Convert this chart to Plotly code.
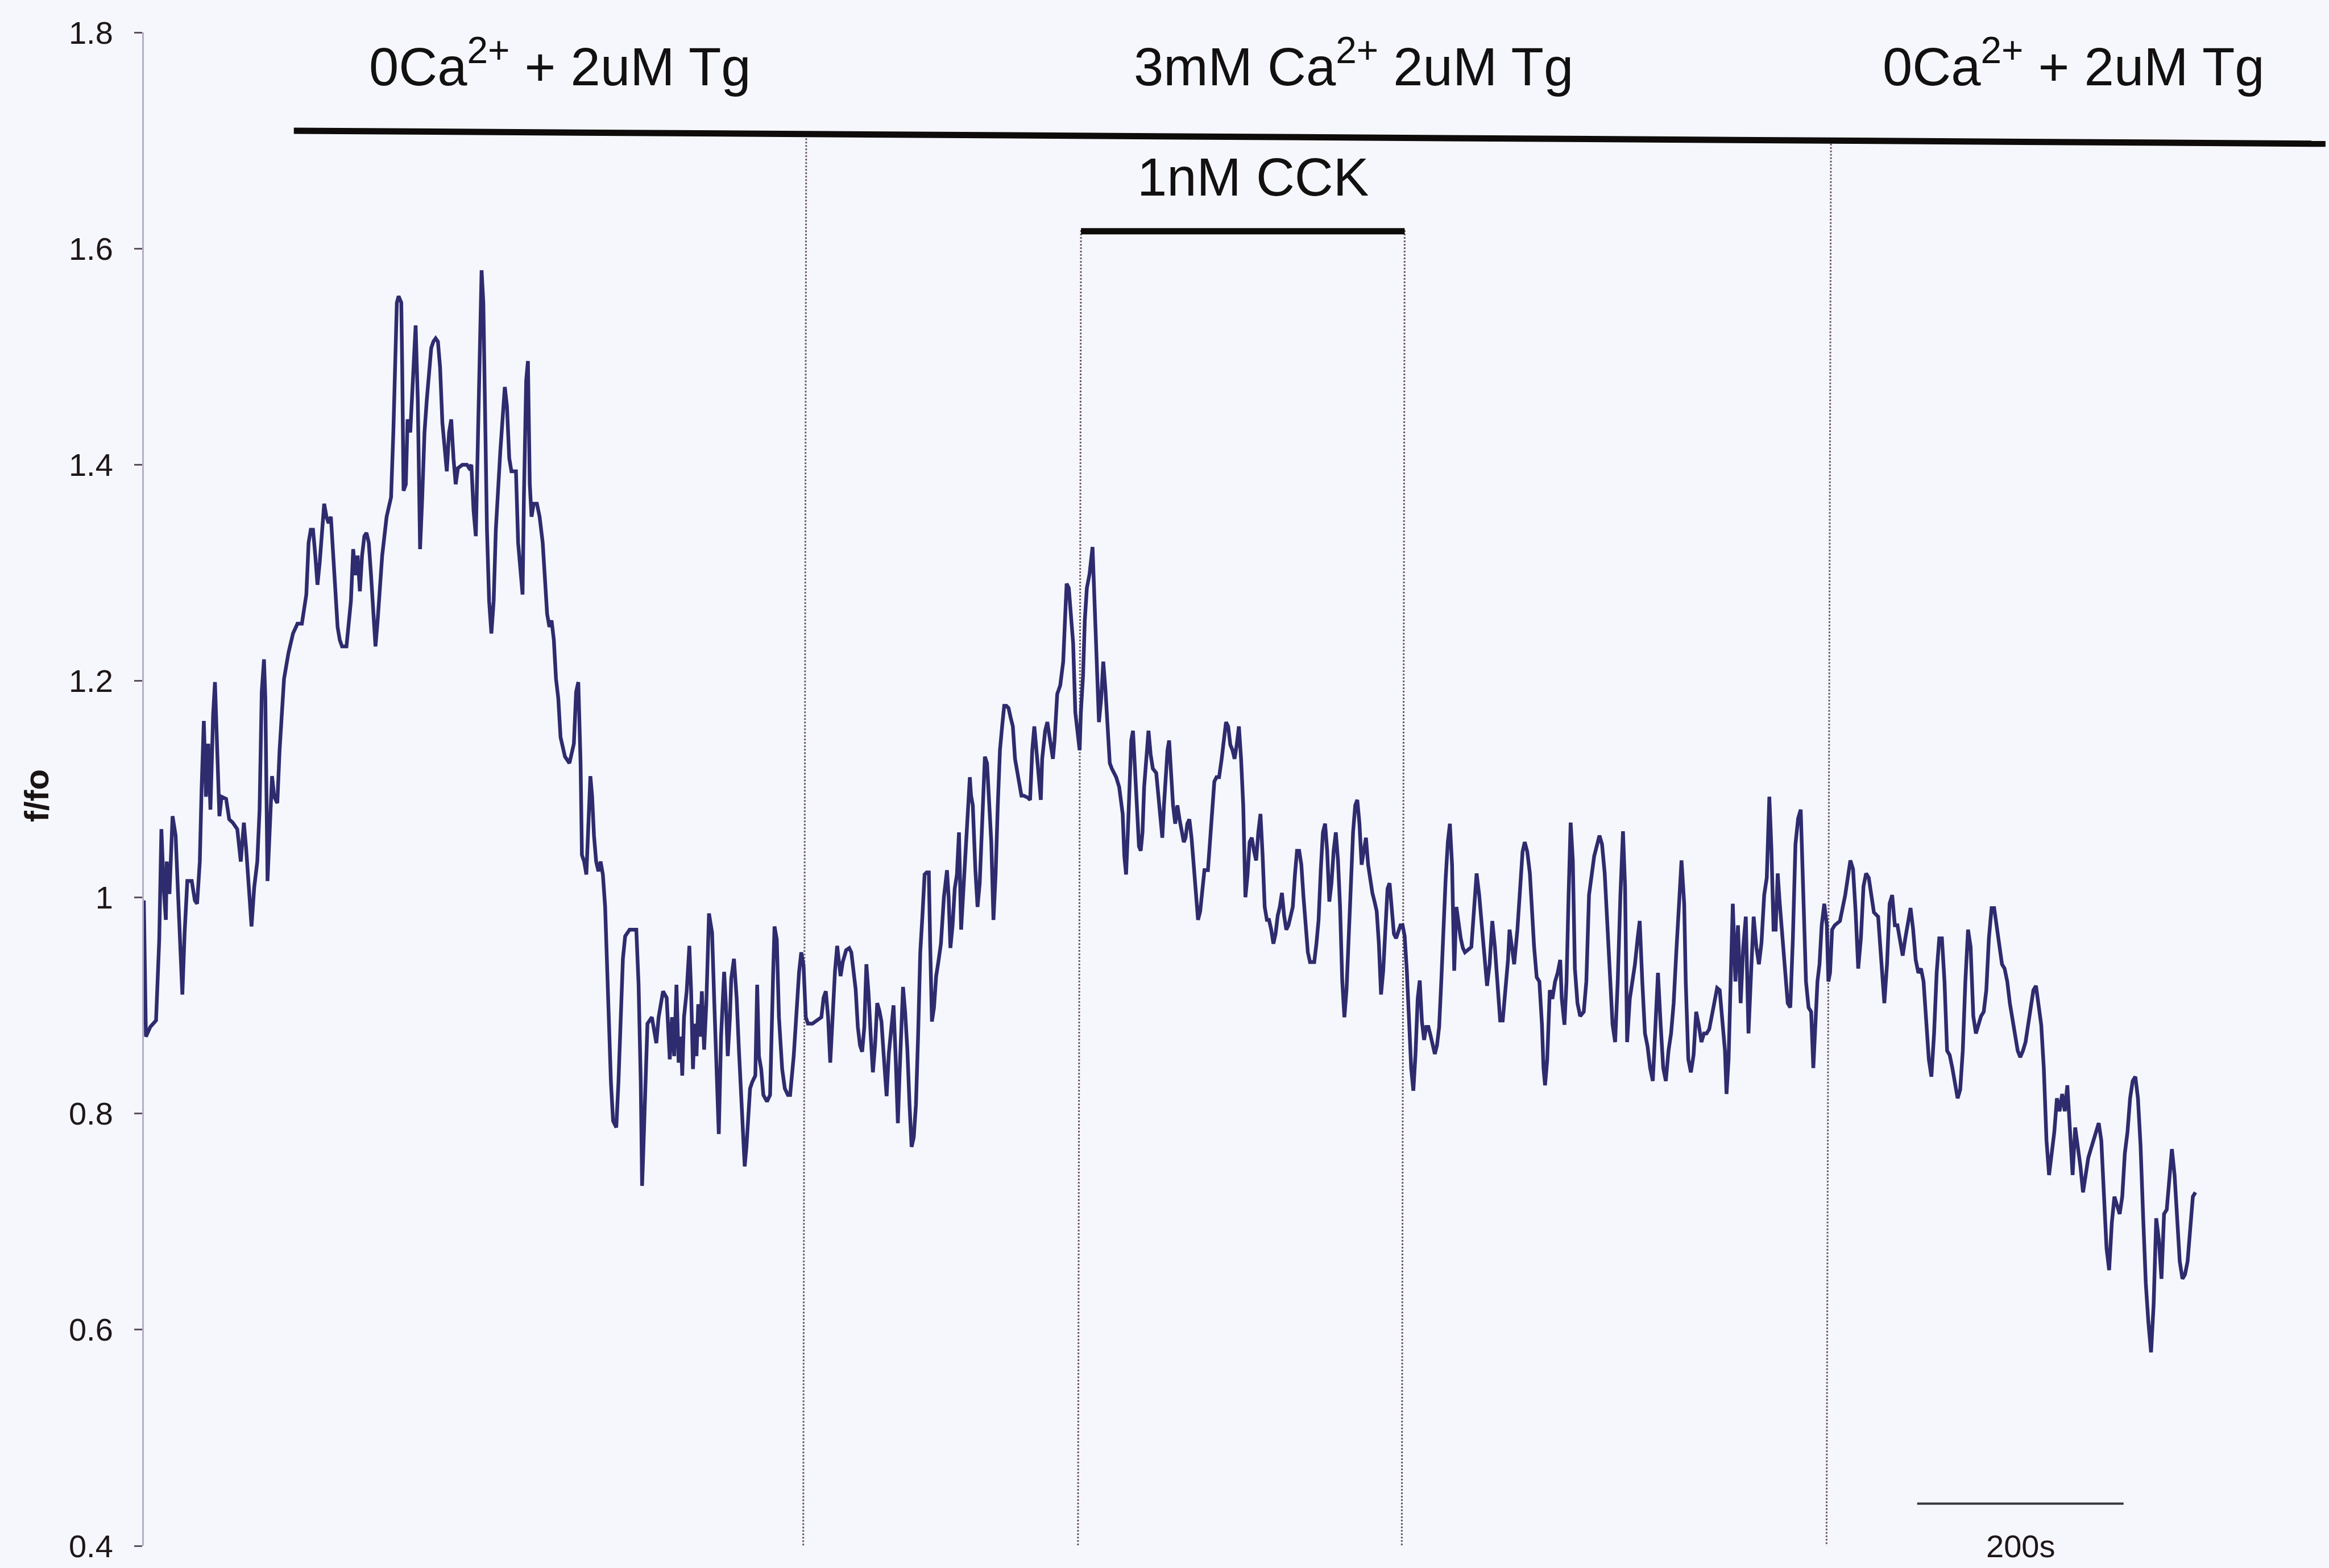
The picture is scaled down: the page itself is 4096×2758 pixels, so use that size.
import plotly.graph_objects as go

# Fluorescence trace (f/fo) against time in seconds
time_s = [
    0.0, 1.0, 2.0, 6.2, 11.8, 14.9, 17.0, 19.2, 21.3, 22.2, 24.8, 27.8, 30.8, 33.4, 35.6, 37.3, 39.5, 42.1, 46.4, 49.4,
    51.6, 54.2, 55.9, 58.1, 60.2, 62.4, 64.5, 67.1, 68.9, 71.0, 73.2, 75.3, 79.7, 82.7, 86.1, 90.5, 93.9, 96.9, 99.1, 102.6,
    104.3, 106.9, 109.9, 112.1, 114.2, 116.4, 117.7, 119.8, 122.0, 124.2, 126.3, 129.3, 131.5, 133.7, 135.8, 140.1, 144.5, 148.8, 153.1, 157.4,
    159.6, 161.7, 163.9, 166.1, 168.2, 170.4, 172.5, 174.7, 176.9, 179.0, 181.2, 183.3, 185.5, 187.7, 189.8, 192.0, 196.3, 200.6, 202.8, 205.0,
    207.1, 209.3, 211.4, 213.6, 215.7, 217.9, 220.1, 222.2, 224.4, 226.5, 228.7, 230.9, 235.2, 239.5, 241.7, 243.8, 245.1, 246.8, 249.4, 250.3,
    251.6, 253.8, 255.5, 258.1, 261.1, 263.3, 265.4, 267.6, 269.7, 271.9, 274.1, 276.2, 278.4, 280.5, 282.7, 284.9, 287.0, 289.2, 291.3, 293.5,
    295.7, 297.8, 300.0, 302.1, 304.3, 308.6, 313.0, 315.1, 317.3, 319.4, 321.6, 323.7, 325.9, 327.2, 328.9, 330.6, 332.4, 334.5, 336.7, 338.9,
    341.0, 345.3, 349.7, 351.8, 354.0, 356.1, 358.3, 360.5, 362.6, 364.8, 366.9, 368.2, 370.4, 372.1, 373.9, 375.6, 377.7, 380.8, 383.4, 386.4,
    388.5, 390.7, 392.9, 395.0, 397.2, 399.3, 401.5, 403.7, 408.0, 412.3, 416.6, 418.8, 420.9, 423.1, 424.4, 426.6, 428.7, 430.9, 432.6, 434.3,
    436.1, 438.2, 440.4, 442.5, 444.7, 446.9, 449.0, 450.7, 452.5, 454.6, 457.7, 459.8, 462.0, 464.1, 466.3, 470.6, 477.1, 479.3, 481.4, 482.7,
    483.6, 485.7, 487.9, 492.2, 494.4, 496.5, 498.7, 503.0, 506.5, 508.2, 509.5, 511.7, 513.8, 516.0, 518.1, 520.3, 521.6, 523.3, 525.9, 528.5,
    530.2, 532.0, 533.7, 535.4, 537.1, 538.9, 540.6, 542.8, 544.9, 547.5, 550.5, 552.7, 554.9, 557.0, 559.2, 562.2, 563.9, 565.7, 567.8, 569.1,
    571.7, 574.3, 576.5, 579.5, 582.1, 583.8, 587.3, 589.4, 592.4, 594.2, 595.9, 598.1, 600.2, 603.7, 606.7, 609.7, 611.0, 613.2, 615.3, 618.4,
    621.0, 624.0, 626.1, 629.6, 632.6, 634.8, 636.9, 639.1, 641.3, 643.4, 647.7, 652.1, 656.4, 658.5, 660.7, 662.9, 665.0,
    669.6, 671.7, 675.0, 677.1, 680.4, 683.4, 685.4, 689.6, 691.7, 693.8, 695.9, 698.0, 700.0, 702.1, 704.2, 706.3, 708.4, 710.5, 712.6, 714.6,
    716.7, 719.6, 721.7, 723.8, 726.3, 728.4, 730.5, 732.2, 733.8, 735.5, 737.6, 739.7, 741.8, 743.8, 745.9, 748.0, 750.1, 752.2, 754.3, 756.4,
    758.4, 760.5, 761.8, 763.5, 765.5, 767.6, 769.7, 772.2, 775.1, 778.1, 779.7, 781.4, 783.5, 785.6, 787.7, 789.7, 791.8, 793.9, 796.0, 798.1,
    800.2, 801.4, 803.1, 805.6, 807.7, 809.8, 811.4, 813.1, 814.8, 816.9, 818.9, 821.0, 823.1, 825.2, 827.3, 829.4, 831.5, 833.5, 835.6, 837.7,
    839.8, 841.9, 844.0, 846.1, 848.1, 850.2, 852.3, 856.5, 858.6, 860.7, 862.7, 864.0, 865.7, 867.3, 869.0, 870.3, 871.9, 873.2, 875.3, 877.3,
    879.4, 880.7, 882.3, 883.6, 884.9, 887.8, 890.7, 892.4, 894.0, 896.1, 898.2, 900.3, 902.4, 904.5, 906.6, 907.8, 909.9, 911.6, 913.6, 916.2,
    919.1, 921.2, 923.2, 925.3, 927.4, 929.5, 931.6, 933.7, 935.8, 937.8, 939.9, 942.0, 944.9, 946.6, 948.3, 949.9, 951.6, 953.3, 955.0, 956.6,
    958.3, 960.0, 961.6, 964.1, 965.8, 967.5, 969.1, 971.2, 973.3, 975.4, 977.5, 980.8, 982.9, 985.0, 986.7, 988.3, 990.0, 991.7, 993.3, 995.0,
    997.1, 999.2, 1001.3, 1003.4, 1005.4, 1007.5, 1009.2, 1010.9, 1012.9, 1015.0, 1017.1, 1019.2, 1021.3, 1023.4, 1025.5, 1027.5, 1030.9, 1033.0, 1035.0, 1037.1,
    1039.2, 1041.7, 1044.2, 1046.3, 1048.4, 1050.5, 1052.6, 1054.7, 1056.7, 1058.8, 1060.9, 1063.0, 1065.1, 1067.2, 1069.3, 1071.3, 1073.4, 1075.5, 1077.6, 1079.7,
    1081.8, 1083.9, 1085.9, 1088.0, 1090.1, 1092.2, 1094.3, 1096.4, 1098.5, 1100.5, 1102.6, 1104.7, 1106.8, 1108.9, 1111.0, 1113.1, 1115.2, 1117.2, 1119.3, 1121.4,
    1123.5, 1125.6, 1127.7, 1129.8, 1133.9, 1136.0, 1138.1, 1140.2, 1142.3, 1144.4, 1146.4, 1148.5, 1150.6, 1152.7, 1154.8, 1156.9, 1158.9, 1161.0, 1163.1, 1165.2,
    1167.3, 1169.4, 1171.5, 1173.6, 1175.6, 1177.7, 1179.8, 1181.9, 1184.0, 1186.1, 1188.2, 1190.2, 1192.3, 1194.4, 1196.5, 1198.6, 1200.7, 1202.8, 1204.9, 1206.9,
    1209.0, 1211.1, 1213.2, 1215.3, 1217.4, 1219.5, 1221.5, 1223.6, 1225.7, 1227.8, 1229.9, 1232.0, 1234.1, 1236.1, 1238.2, 1240.3, 1242.4, 1244.5, 1246.6, 1248.7,
    1250.7, 1252.8, 1254.9, 1257.0, 1259.1, 1261.2, 1263.3, 1265.3, 1267.4, 1269.5, 1271.6, 1273.7, 1275.8, 1277.9, 1279.9,
    1286.1, 1288.6, 1291.2, 1293.7, 1296.2, 1298.8, 1301.3, 1303.8, 1306.4, 1308.9, 1311.4, 1314.0, 1316.5, 1319.0, 1321.6, 1323.1, 1325.1, 1327.6, 1330.7, 1333.2,
    1335.7, 1337.8, 1340.3, 1342.8, 1344.9, 1346.9, 1349.4, 1352.0, 1354.5, 1356.0, 1357.5, 1359.6, 1362.1, 1364.6, 1367.2, 1369.7, 1372.2, 1373.7, 1376.3, 1378.3,
    1380.3, 1382.3, 1384.4, 1386.4, 1388.9, 1391.5, 1395.0, 1397.5, 1400.1, 1402.6, 1405.1, 1410.2, 1412.7, 1415.3, 1417.8, 1420.3, 1422.9, 1425.4, 1427.9, 1430.5,
    1433.0, 1435.0, 1437.0, 1439.6, 1442.1, 1444.6, 1447.2, 1449.2, 1451.7, 1454.3, 1456.8, 1459.3, 1461.9, 1464.4, 1466.9, 1469.5, 1472.0, 1474.5, 1477.1, 1479.6,
    1482.1, 1484.7, 1487.2, 1489.7, 1492.3, 1493.8, 1496.3, 1498.8, 1501.4, 1503.9, 1506.4, 1509.0, 1511.5, 1514.0, 1516.6, 1519.1, 1521.6, 1524.2, 1526.7, 1529.2,
    1531.8, 1533.3, 1535.3, 1537.3, 1539.4, 1541.9, 1544.4, 1547.0, 1549.5, 1552.0, 1554.6, 1557.1, 1559.6, 1562.2, 1564.7, 1567.2, 1569.8, 1572.3, 1574.8, 1576.8,
    1578.9, 1580.9, 1582.9, 1584.9, 1587.5, 1590.0, 1592.6, 1595.1, 1597.6, 1600.1, 1602.7, 1605.2, 1607.7, 1610.3, 1612.8, 1615.3, 1617.4, 1619.4, 1621.4, 1623.4,
    1625.5, 1628.0, 1630.5, 1632.0, 1633.6, 1635.6, 1638.1, 1643.2, 1648.3, 1653.3, 1655.9, 1658.4, 1660.9, 1663.5, 1666.0, 1668.5, 1671.1, 1673.6, 1676.1, 1680.2,
    1683.7, 1686.2, 1688.8, 1691.3, 1693.8, 1696.4, 1698.9, 1701.4, 1704.0, 1706.5, 1709.0, 1711.6, 1714.1, 1716.6, 1719.2, 1721.7, 1724.2, 1726.8, 1729.3, 1731.8,
    1734.4, 1736.9, 1739.4, 1742.0, 1744.5, 1747.0, 1749.5, 1752.1, 1754.6, 1757.2, 1759.7, 1762.2, 1764.7, 1767.3, 1769.8, 1772.4, 1774.9, 1777.4, 1779.9, 1782.5,
    1785.0, 1787.5, 1790.1, 1792.6, 1795.1, 1797.7, 1800.2, 1802.7, 1805.3, 1807.8, 1810.3, 1812.9, 1815.4, 1817.9, 1820.5, 1823.0, 1825.5, 1828.1, 1830.6, 1833.1,
    1835.7, 1838.2, 1840.7, 1843.3, 1845.8, 1848.3, 1850.9, 1853.4, 1855.9, 1858.5, 1861.0, 1863.5, 1866.1, 1868.6, 1871.1, 1873.7, 1876.2, 1878.7, 1881.2, 1883.8,
    1888.8, 1893.9, 1896.4, 1899.0, 1901.5, 1904.0, 1906.6, 1909.1, 1911.6, 1914.2, 1916.7, 1919.2, 1921.8, 1924.3, 1926.8, 1929.4, 1931.9, 1934.4, 1937.0, 1939.5,
    1942.0, 1944.6, 1947.1, 1949.6, 1952.2, 1954.7, 1957.2, 1959.8, 1962.3, 1964.8, 1967.4, 1969.9, 1972.4, 1975.0, 1977.5, 1980.0, 1982.6, 1985.1, 1987.6,
]

f_fo = [
    0.997, 0.907, 0.871, 0.880, 0.886, 0.961, 1.063, 1.009, 0.979, 1.033, 1.003, 1.075, 1.057, 0.997, 0.943, 0.910, 0.967, 1.015, 1.015, 0.997,
    0.994, 1.033, 1.099, 1.163, 1.093, 1.142, 1.081, 1.169, 1.199, 1.142, 1.075, 1.093, 1.091, 1.072, 1.069, 1.063, 1.033, 1.069, 1.045, 0.997,
    0.973, 1.009, 1.033, 1.081, 1.190, 1.220, 1.184, 1.015, 1.069, 1.112, 1.093, 1.087, 1.136, 1.178, 1.202, 1.226, 1.244, 1.253, 1.253, 1.280,
    1.328, 1.340, 1.340, 1.316, 1.289, 1.310, 1.340, 1.364, 1.352, 1.346, 1.352, 1.322, 1.280, 1.250, 1.238, 1.232, 1.232, 1.274, 1.322, 1.298,
    1.316, 1.283, 1.316, 1.334, 1.337, 1.328, 1.298, 1.262, 1.232, 1.256, 1.292, 1.316, 1.352, 1.370, 1.430, 1.490, 1.550, 1.556, 1.550, 1.490,
    1.376, 1.382, 1.442, 1.430, 1.490, 1.529, 1.460, 1.322, 1.370, 1.430, 1.460, 1.481, 1.508, 1.514, 1.517, 1.514, 1.490, 1.439, 1.412, 1.394,
    1.430, 1.442, 1.406, 1.382, 1.397, 1.400, 1.400, 1.397, 1.400, 1.358, 1.334, 1.430, 1.550, 1.580, 1.550, 1.442, 1.340, 1.274, 1.244, 1.274,
    1.340, 1.412, 1.472, 1.454, 1.406, 1.394, 1.394, 1.394, 1.328, 1.298, 1.280, 1.370, 1.478, 1.496, 1.382, 1.352, 1.364, 1.364, 1.352, 1.328,
    1.292, 1.262, 1.250, 1.256, 1.238, 1.202, 1.184, 1.148, 1.130, 1.124, 1.142, 1.190, 1.199, 1.124, 1.039, 1.033, 1.021, 1.069, 1.112, 1.093,
    1.057, 1.033, 1.024, 1.033, 1.021, 0.991, 0.925, 0.871, 0.829, 0.793, 0.787, 0.829, 0.889, 0.943, 0.964, 0.970, 0.970, 0.919, 0.829, 0.733,
    0.757, 0.823, 0.883, 0.889, 0.877, 0.865, 0.889, 0.913, 0.907, 0.871, 0.850, 0.889, 0.853, 0.919, 0.847, 0.871, 0.835, 0.889, 0.913, 0.955,
    0.913, 0.841, 0.883, 0.853, 0.901, 0.871, 0.913, 0.859, 0.901, 0.985, 0.967, 0.901, 0.835, 0.781, 0.871, 0.931, 0.901, 0.853, 0.889, 0.925,
    0.943, 0.907, 0.859, 0.799, 0.751, 0.769, 0.823, 0.829, 0.835, 0.919, 0.853, 0.841, 0.817, 0.811, 0.817, 0.931, 0.973, 0.961, 0.889, 0.841,
    0.823, 0.817, 0.817, 0.853, 0.901, 0.931, 0.949, 0.937, 0.889, 0.883, 0.883, 0.886, 0.889, 0.907, 0.913, 0.889, 0.847,
    0.932, 0.955, 0.927, 0.940, 0.951, 0.953, 0.949, 0.915, 0.880, 0.863, 0.857, 0.880, 0.938, 0.911, 0.872, 0.838, 0.863, 0.902, 0.895, 0.885,
    0.855, 0.816, 0.855, 0.876, 0.900, 0.851, 0.791, 0.838, 0.880, 0.917, 0.893, 0.859, 0.808, 0.769, 0.778, 0.808, 0.872, 0.949, 0.983, 1.021,
    1.023, 1.023, 0.957, 0.885, 0.898, 0.927, 0.940, 0.957, 1.000, 1.025, 1.000, 0.953, 0.974, 1.008, 1.021, 1.060, 0.970, 1.008, 1.051, 1.089,
    1.111, 1.094, 1.085, 1.025, 0.991, 1.013, 1.055, 1.094, 1.130, 1.124, 1.085, 1.051, 0.979, 1.021, 1.085, 1.136, 1.158, 1.177, 1.177, 1.175,
    1.166, 1.158, 1.128, 1.115, 1.102, 1.094, 1.094, 1.092, 1.090, 1.136, 1.158, 1.145, 1.128, 1.107, 1.090, 1.128, 1.145, 1.154, 1.162, 1.149,
    1.136, 1.128, 1.145, 1.162, 1.188, 1.196, 1.218, 1.256, 1.290, 1.286, 1.264, 1.235, 1.171, 1.149, 1.136, 1.171, 1.205, 1.256, 1.286, 1.299,
    1.324, 1.269, 1.222, 1.162, 1.183, 1.218, 1.192, 1.154, 1.124, 1.119, 1.115, 1.111, 1.102, 1.090, 1.077, 1.038, 1.021, 1.060, 1.111, 1.145,
    1.154, 1.124, 1.085, 1.047, 1.043, 1.060, 1.102, 1.128, 1.154, 1.132, 1.119, 1.115, 1.094, 1.064, 1.055, 1.085, 1.111, 1.136, 1.145, 1.119,
    1.085, 1.068, 1.085, 1.072, 1.060, 1.051, 1.055, 1.068, 1.072, 1.055, 1.030, 1.000, 0.979, 0.987, 1.008, 1.025, 1.025, 1.051, 1.085, 1.107,
    1.111, 1.111, 1.128, 1.145, 1.162, 1.158, 1.141, 1.136, 1.128, 1.141, 1.158, 1.128, 1.085, 1.000, 1.021, 1.051, 1.055, 1.043, 1.034, 1.060,
    1.077, 1.038, 0.991, 0.979, 0.979, 0.970, 0.957, 0.966, 0.983, 0.991, 1.004, 0.983, 0.970, 0.974, 0.983, 0.991, 1.021, 1.043, 1.043, 1.030,
    1.000, 0.970, 0.949, 0.940, 0.940, 0.957, 0.979, 1.025, 1.060, 1.068, 1.043, 0.996, 1.013, 1.043, 1.060, 1.034, 0.991, 0.923, 0.889, 0.915,
    0.966, 1.013, 1.060, 1.085, 1.090, 1.068, 1.030, 1.043, 1.055, 1.030, 1.013, 1.004, 0.996, 0.987, 0.957, 0.910, 0.932, 0.974, 1.008, 1.013,
    0.991, 0.966, 0.962, 0.968, 0.974, 0.974, 0.964, 0.932, 0.893, 0.842, 0.821, 0.855, 0.906, 0.923, 0.885, 0.868, 0.880, 0.880, 0.872, 0.863,
    0.855, 0.863, 0.880, 0.923, 0.974, 1.017, 1.051, 1.068, 1.030, 0.932, 0.991, 0.974, 0.962, 0.953, 0.949,
    0.954, 0.990, 1.022, 1.002, 0.974, 0.938, 0.918, 0.938, 0.978, 0.954, 0.922, 0.886, 0.886, 0.914, 0.942, 0.970, 0.958, 0.938, 0.970, 1.010,
    1.042, 1.051, 1.042, 1.022, 0.982, 0.954, 0.926, 0.922, 0.882, 0.842, 0.826, 0.850, 0.914, 0.906, 0.922, 0.930, 0.942, 0.906, 0.882, 0.922,
    1.002, 1.069, 1.034, 0.934, 0.902, 0.890, 0.894, 0.922, 1.002, 1.022, 1.038, 1.057, 1.049, 1.022, 0.970, 0.922, 0.882, 0.866, 0.922, 1.002,
    1.061, 1.010, 0.866, 0.906, 0.922, 0.938, 0.962, 0.978, 0.922, 0.874, 0.862, 0.842, 0.830, 0.874, 0.930, 0.882, 0.842, 0.830, 0.858, 0.874,
    0.902, 0.950, 0.994, 1.034, 0.994, 0.922, 0.850, 0.838, 0.854, 0.894, 0.882, 0.866, 0.874, 0.874, 0.878, 0.890, 0.906, 0.916, 0.914, 0.890,
    0.858, 0.818, 0.850, 0.922, 0.994, 0.922, 0.974, 0.902, 0.954, 0.982, 0.874, 0.930, 0.982, 0.954, 0.938, 0.958, 1.002, 1.018, 1.093, 1.045,
    0.970, 0.970, 1.022, 0.994, 0.962, 0.930, 0.902, 0.898, 0.962, 1.049, 1.073, 1.081, 1.002, 0.922, 0.898, 0.894, 0.842, 0.882, 0.922, 0.938,
    0.974, 0.994, 0.974, 0.922, 0.930, 0.970, 0.974, 0.978, 1.002, 1.034, 1.026, 0.986, 0.934, 0.962, 1.010, 1.022, 1.018, 1.002, 0.986, 0.982,
    0.930, 0.902, 0.938, 0.994, 1.002, 0.974, 0.974, 0.962, 0.946, 0.962, 0.974, 0.990, 0.970, 0.942, 0.930, 0.934, 0.922, 0.882, 0.850, 0.834,
    0.874, 0.930, 0.962, 0.962, 0.922, 0.858, 0.854, 0.842, 0.826, 0.814, 0.822, 0.858, 0.922, 0.970, 0.954, 0.890, 0.874, 0.882, 0.890, 0.894,
    0.914, 0.962, 0.990, 0.990, 0.974, 0.954, 0.938, 0.934, 0.922, 0.902, 0.886, 0.874, 0.858, 0.852, 0.858, 0.866, 0.882, 0.898, 0.914, 0.918,
    0.902, 0.882, 0.842, 0.775, 0.743, 0.763, 0.783, 0.814, 0.802, 0.818, 0.802, 0.826, 0.787, 0.743, 0.787, 0.771, 0.751, 0.727, 0.743, 0.759,
    0.775, 0.791, 0.775, 0.723, 0.675, 0.655, 0.699, 0.723, 0.715, 0.707, 0.723, 0.763, 0.783, 0.814, 0.830, 0.834, 0.814, 0.771, 0.703, 0.643,
    0.607, 0.579, 0.623, 0.703, 0.683, 0.647, 0.707, 0.711, 0.739, 0.767, 0.743, 0.695, 0.663, 0.647, 0.651, 0.663, 0.691, 0.723, 0.727,
]

# Axis
y_ticks = [0.4, 0.6, 0.8, 1.0, 1.2, 1.4, 1.6, 1.8]
y_tick_text = ["0.4", "0.6", "0.8", "1", "1.2", "1.4", "1.6", "1.8"]
x_range = [0, 2117]
y_range = [0.4, 1.8]

# Solution-change markers (seconds) and the protocol bars
solution_changes = [(641.7, 1.702, 638.8), (907.9, 1.617, 905.0), (1221.5, 1.617, 1218.7), (1634.5, 1.697, 1630.2)]
tg_bar = (145.3, 1.709, 2113.6, 1.697)
cck_bar = (907.9, 1221.5, 1.616)
scale_bar = (1718, 1918, 0.439)
scale_label = "200s"

W, H = 4096, 2758
BG = "#F5F7FC"
FONT = "Liberation Sans, Arial, Helvetica, sans-serif"

fig = go.Figure()
fig.add_trace(go.Scatter(
    x=time_s, y=f_fo, mode="lines",
    line=dict(color="#2E2B6E", width=6.5),
    hoverinfo="skip", showlegend=False,
))

shapes = []
for x_top, y_top, x_bot in solution_changes:
    shapes.append(dict(type="line", xref="x", yref="y", x0=x_top, y0=y_top, x1=x_bot, y1=0.4,
                       line=dict(color="#6A5662", width=3, dash="3px,3px"), layer="below"))
shapes.append(dict(type="line", xref="x", yref="y", x0=tg_bar[0], y0=tg_bar[1], x1=tg_bar[2], y1=tg_bar[3],
                   line=dict(color="#0E0B0A", width=11)))
shapes.append(dict(type="line", xref="x", yref="y", x0=cck_bar[0], y0=cck_bar[2], x1=cck_bar[1], y1=cck_bar[2],
                   line=dict(color="#0E0B0A", width=11)))
shapes.append(dict(type="line", xref="x", yref="y", x0=scale_bar[0], y0=scale_bar[2], x1=scale_bar[1], y1=scale_bar[2],
                   line=dict(color="#3A3840", width=4)))

label_font = dict(family=FONT, size=94, color="#121010")
annotations = [
    dict(x=217.3, y=1.772, text="0Ca<sup>2+</sup> + 2uM Tg", xanchor="left", yanchor="middle"),
    dict(x=958.2, y=1.772, text="3mM Ca<sup>2+</sup> 2uM Tg", xanchor="left", yanchor="middle"),
    dict(x=1683.4, y=1.772, text="0Ca<sup>2+</sup> + 2uM Tg", xanchor="left", yanchor="middle"),
    dict(x=961.1, y=1.666, text="1nM CCK", xanchor="left", yanchor="middle"),
]
for a in annotations:
    a.update(xref="x", yref="y", showarrow=False, font=label_font)
# the scale-bar caption sits on the bottom edge of the plot area
annotations.append(dict(x=(scale_bar[0] + scale_bar[1]) / 2, y=0.0, xref="x", yref="paper", text=scale_label,
                        showarrow=False, xanchor="center", yanchor="middle",
                        font=dict(family=FONT, size=56, color="#1E1618")))
annotations.append(dict(x=-0.049, y=1.094, xref="paper", yref="y", text="<b>f/fo</b>", textangle=-90,
                        showarrow=False, xanchor="center", yanchor="middle",
                        font=dict(family=FONT, size=60, color="#1A1414")))

fig.update_layout(
    width=W, height=H,
    margin=dict(l=253, r=0, t=57, b=39, pad=0, autoexpand=False),
    paper_bgcolor=BG, plot_bgcolor=BG,
    shapes=shapes, annotations=annotations,
    xaxis=dict(range=x_range, visible=False, showgrid=False, zeroline=False),
    yaxis=dict(range=y_range, tickvals=y_ticks, ticktext=y_tick_text,
               showline=True, linecolor="#B4AEC4", linewidth=3,
               ticks="outside", ticklen=14, tickwidth=3, tickcolor="#5A5060",
               ticklabelstandoff=26,
               tickfont=dict(family=FONT, size=56, color="#1E1618"),
               showgrid=False, zeroline=False),
)

fig.write_html("out.html")
